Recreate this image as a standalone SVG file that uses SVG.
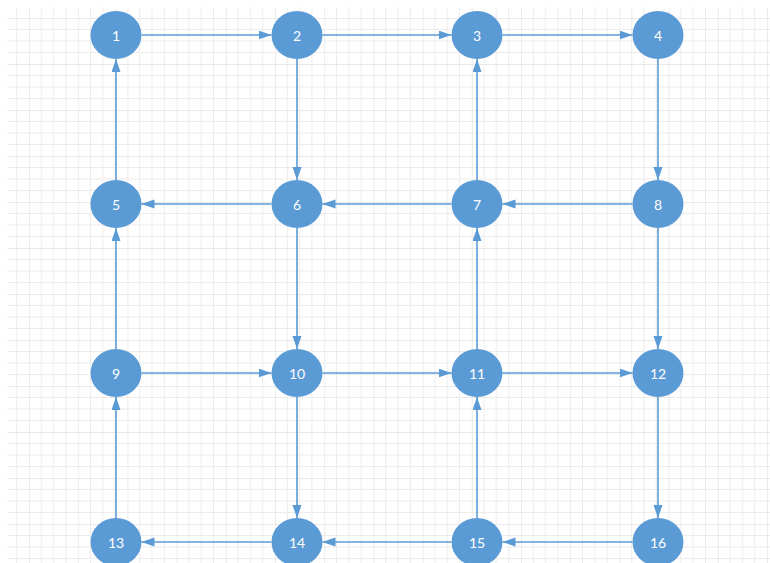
<svg xmlns="http://www.w3.org/2000/svg" width="770" height="563" viewBox="0 0 770 563">
<style>
.node ellipse{fill:#5b9bd5;}
.node text{fill:#ffffff;font-family:Lato,"Liberation Sans",sans-serif;font-size:14px;text-anchor:middle;dominant-baseline:central;}
.edge{stroke:#5b9bd5;stroke-width:1.6;fill:none;marker-end:url(#arr);}
</style>
<defs>
<marker id="arr" markerUnits="userSpaceOnUse" markerWidth="13" markerHeight="10" refX="13" refY="4.5" orient="auto">
<path d="M0,0 L13,4.5 L0,9 z" fill="#5b9bd5"/>
</marker>
<pattern id="grid" patternUnits="userSpaceOnUse" x="-20.2" y="18" width="49.2" height="46">
<path d="M12.3,0V46M24.6,0V46M36.9,0V46M0,11.5H49.2M0,23H49.2M0,34.5H49.2" stroke="#ececec" stroke-width="1" fill="none"/>
<path d="M0,0V46M0,0H49.2" stroke="#e2e2e2" stroke-width="1.3" fill="none"/>
</pattern>
</defs>
<rect x="0" y="0" width="770" height="563" fill="#ffffff"/>
<rect x="7" y="7" width="763" height="556" fill="url(#grid)"/>
<g id="connectors">
<line class="edge" x1="141.5" y1="35" x2="271.5" y2="35"/>
<line class="edge" x1="322.5" y1="35" x2="451.5" y2="35"/>
<line class="edge" x1="502.5" y1="35" x2="632.5" y2="35"/>
<line class="edge" x1="271.5" y1="204" x2="141.5" y2="204"/>
<line class="edge" x1="451.5" y1="204" x2="322.5" y2="204"/>
<line class="edge" x1="632.5" y1="204" x2="502.5" y2="204"/>
<line class="edge" x1="141.5" y1="373" x2="271.5" y2="373"/>
<line class="edge" x1="322.5" y1="373" x2="451.5" y2="373"/>
<line class="edge" x1="502.5" y1="373" x2="632.5" y2="373"/>
<line class="edge" x1="271.5" y1="542" x2="141.5" y2="542"/>
<line class="edge" x1="451.5" y1="542" x2="322.5" y2="542"/>
<line class="edge" x1="632.5" y1="542" x2="502.5" y2="542"/>
<line class="edge" x1="116" y1="180" x2="116" y2="59"/>
<line class="edge" x1="297" y1="59" x2="297" y2="180"/>
<line class="edge" x1="477" y1="180" x2="477" y2="59"/>
<line class="edge" x1="658" y1="59" x2="658" y2="180"/>
<line class="edge" x1="116" y1="349" x2="116" y2="228"/>
<line class="edge" x1="297" y1="228" x2="297" y2="349"/>
<line class="edge" x1="477" y1="349" x2="477" y2="228"/>
<line class="edge" x1="658" y1="228" x2="658" y2="349"/>
<line class="edge" x1="116" y1="518" x2="116" y2="397"/>
<line class="edge" x1="297" y1="397" x2="297" y2="518"/>
<line class="edge" x1="477" y1="518" x2="477" y2="397"/>
<line class="edge" x1="658" y1="397" x2="658" y2="518"/>
</g>
<g id="n1" class="node"><ellipse cx="116" cy="35" rx="25.5" ry="24"/><text x="116" y="35">1</text></g>
<g id="n2" class="node"><ellipse cx="297" cy="35" rx="25.5" ry="24"/><text x="297" y="35">2</text></g>
<g id="n3" class="node"><ellipse cx="477" cy="35" rx="25.5" ry="24"/><text x="477" y="35">3</text></g>
<g id="n4" class="node"><ellipse cx="658" cy="35" rx="25.5" ry="24"/><text x="658" y="35">4</text></g>
<g id="n5" class="node"><ellipse cx="116" cy="204" rx="25.5" ry="24"/><text x="116" y="204">5</text></g>
<g id="n6" class="node"><ellipse cx="297" cy="204" rx="25.5" ry="24"/><text x="297" y="204">6</text></g>
<g id="n7" class="node"><ellipse cx="477" cy="204" rx="25.5" ry="24"/><text x="477" y="204">7</text></g>
<g id="n8" class="node"><ellipse cx="658" cy="204" rx="25.5" ry="24"/><text x="658" y="204">8</text></g>
<g id="n9" class="node"><ellipse cx="116" cy="373" rx="25.5" ry="24"/><text x="116" y="373">9</text></g>
<g id="n10" class="node"><ellipse cx="297" cy="373" rx="25.5" ry="24"/><text x="297" y="373">10</text></g>
<g id="n11" class="node"><ellipse cx="477" cy="373" rx="25.5" ry="24"/><text x="477" y="373">11</text></g>
<g id="n12" class="node"><ellipse cx="658" cy="373" rx="25.5" ry="24"/><text x="658" y="373">12</text></g>
<g id="n13" class="node"><ellipse cx="116" cy="542" rx="25.5" ry="24"/><text x="116" y="542">13</text></g>
<g id="n14" class="node"><ellipse cx="297" cy="542" rx="25.5" ry="24"/><text x="297" y="542">14</text></g>
<g id="n15" class="node"><ellipse cx="477" cy="542" rx="25.5" ry="24"/><text x="477" y="542">15</text></g>
<g id="n16" class="node"><ellipse cx="658" cy="542" rx="25.5" ry="24"/><text x="658" y="542">16</text></g>
</svg>
